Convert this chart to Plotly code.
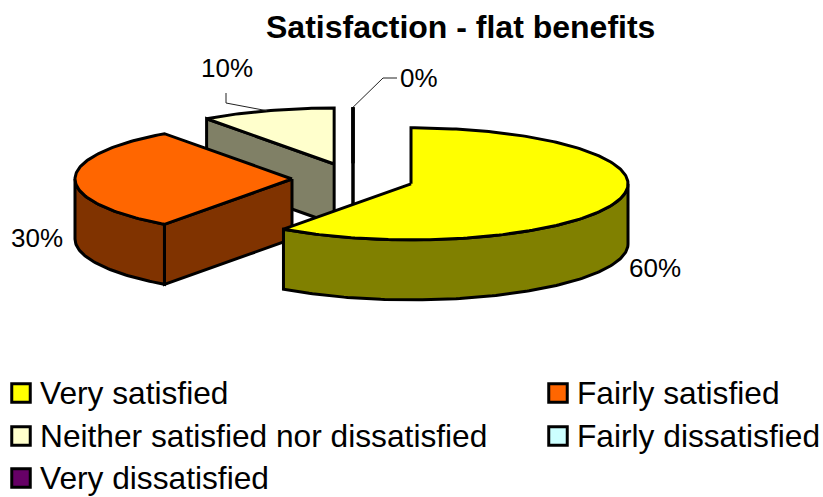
import math
import plotly.graph_objects as go

# Chart content
title = "Satisfaction - flat benefits"
categories = ["Very satisfied", "Fairly satisfied", "Neither satisfied nor dissatisfied",
              "Fairly dissatisfied", "Very dissatisfied"]
values = [60, 30, 10, 0, 0]

# Slice colours and their shaded side walls
top_colors = ["#FFFF00", "#FF6600", "#FFFFCC", "#CCFFFF", "#660066"]
wall_colors = ["#808000", "#803300", "#808066", "#668080", "#330033"]

# Projection of the exploded pie, in page pixels
WIDTH, HEIGHT = 823, 497
CX, CY = 353, 179
RX, RY = 217, 56
DEPTH = 60
EXPLODE = 61
EDGE = 3
FONT = "Liberation Sans, Arial, sans-serif"

# Label placement: text centre plus elbow of the leader line (None = no leader)
label_pos = [(655, 268), (37, 238), (227, 68), (419, 78)]
leader_elbows = [None, None, [(226, 103), (226, 93)], [(383, 78), (397, 78)]]

# Legend placement: marker centre and text start
legend_markers = [(21, 393), (558, 393), (21, 436), (558, 436), (21, 478)]
legend_text_offset = 17


def rim(cx, cy, deg):
    a = math.radians(deg)
    return cx + RX * math.sin(a), cy - RY * math.cos(a)


def arc(cx, cy, a0, a1):
    n = max(1, int(abs(a1 - a0)))
    return [rim(cx, cy, a0 + (a1 - a0) * i / n) for i in range(n + 1)]


def polygon(points, fill):
    xs = [p[0] for p in points] + [points[0][0]]
    ys = [p[1] for p in points] + [points[0][1]]
    return go.Scatter(x=xs, y=ys, mode="lines", fill="toself", fillcolor=fill,
                      line=dict(color="black", width=EDGE), hoverinfo="skip", showlegend=False)


fig = go.Figure()

# Angular extent and exploded centre of every slice
total = sum(values)
slices = []
start = 0.0
for v in values:
    sweep = 360.0 * v / total
    mid = math.radians(start + sweep / 2)
    cx = CX + EXPLODE * math.sin(mid)
    cy = CY - EXPLODE * math.cos(mid) * RY / RX
    slices.append((start, start + sweep, cx, cy))
    start += sweep

# Paint back to front so nearer slices cover the ones behind
for i in reversed(range(len(values))):
    a0, a1, cx, cy = slices[i]
    apex = (cx, cy)
    down = lambda p: (p[0], p[1] + DEPTH)

    # Radial wall on the leading edge, or a bare edge for an empty slice
    if a1 == a0 or 180 < a0 < 360:
        p = rim(cx, cy, a0)
        fig.add_trace(polygon([apex, p, down(p), down(apex)], wall_colors[i]))

    # Curved outer wall over the front half of the ellipse
    w0, w1 = max(a0, 90), min(a1, 270)
    if w1 > w0:
        outer = arc(cx, cy, w0, w1)
        fig.add_trace(polygon(outer + [down(p) for p in reversed(outer)], wall_colors[i]))

    fig.add_trace(polygon([apex] + arc(cx, cy, a0, a1), top_colors[i]))

annotations = [dict(x=460, y=27, text=f"<b>{title}</b>", showarrow=False,
                    font=dict(family=FONT, size=32, color="black"))]

# Percentage labels and their leader lines
for i, (pos, elbow) in enumerate(zip(label_pos, leader_elbows)):
    a0, a1, cx, cy = slices[i]
    annotations.append(dict(x=pos[0], y=pos[1], text=f"{values[i]}%", showarrow=False,
                            font=dict(family=FONT, size=26, color="black")))
    if elbow:
        anchor = rim(cx, cy, (a0 + a1) / 2)
        pts = [anchor] + elbow
        fig.add_trace(go.Scatter(x=[p[0] for p in pts], y=[p[1] for p in pts], mode="lines",
                                 line=dict(color="#222222", width=1),
                                 hoverinfo="skip", showlegend=False))

# Legend keys and entries
for name, color, (mx, my) in zip(categories, top_colors, legend_markers):
    fig.add_trace(go.Scatter(x=[mx], y=[my], mode="markers",
                             marker=dict(symbol="square", size=18.5, color=color,
                                         line=dict(color="black", width=EDGE)),
                             hoverinfo="skip", showlegend=False))
    annotations.append(dict(x=mx + legend_text_offset, y=my, text=name, showarrow=False, xanchor="left",
                            font=dict(family=FONT, size=31.7, color="black")))

fig.update_layout(
    width=WIDTH, height=HEIGHT, margin=dict(l=0, r=0, t=0, b=0),
    paper_bgcolor="white", plot_bgcolor="white",
    xaxis=dict(range=[0, WIDTH], visible=False, fixedrange=True),
    yaxis=dict(range=[HEIGHT, 0], visible=False, fixedrange=True),
    annotations=annotations,
)

fig.write_html("out.html", config=dict(displayModeBar=False))
